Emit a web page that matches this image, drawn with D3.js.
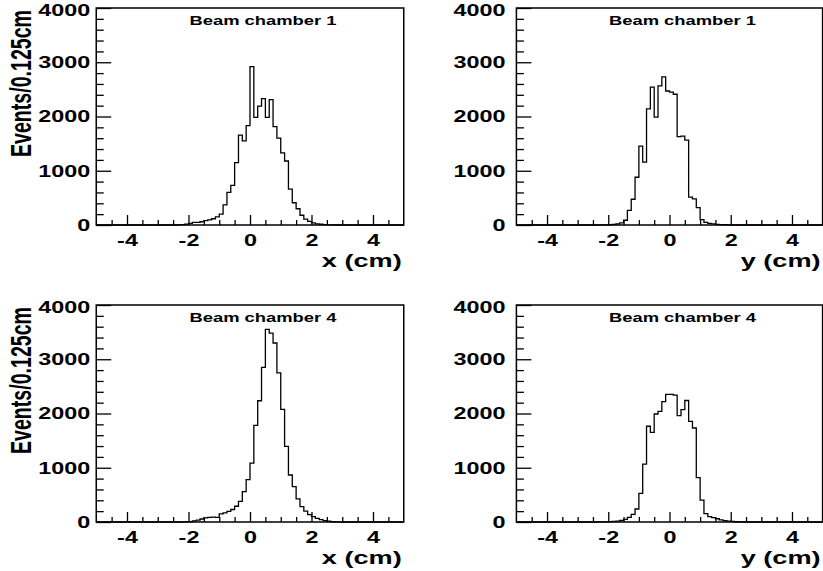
<!DOCTYPE html>
<html>
<head>
<meta charset="utf-8">
<script src="https://cdn.jsdelivr.net/npm/d3@7"></script>
<style>
  body { margin: 0; background: #fff; }
  svg { display: block; }
  text { font-family: "Liberation Sans", Arial, Helvetica, sans-serif; font-weight: bold; fill: #000; }
</style>
</head>
<body>
<div id="vis"></div>
<script>
// histogram binning: 80 bins of 0.125 cm from -5 to 5
var xMin = -5;
var xMax = 5;
var binWidth = 0.125;
// the stored counts start at this bin edge, everything outside is empty
var firstEdge = -2.5;

// events per bin, chamber 1, x
var xChamber1 = [0, 3, 8, 15, 30, 50, 50, 60, 80, 95, 115, 150, 200, 370, 600, 730,
  1150, 1655, 1550, 1830, 2920, 1985, 2190, 2330, 1985, 2310, 1815, 1600, 1330, 1180,
  660, 410, 300, 180, 110, 65, 38, 22, 14, 8, 4, 2, 0, 0];
// events per bin, chamber 1, y
var yChamber1 = [0, 0, 2, 3, 5, 10, 20, 40, 88, 270, 475, 880, 1455, 1160, 2140, 2540,
  1990, 2565, 2730, 2470, 2450, 2410, 1630, 1640, 1565, 515, 480, 320, 100, 48,
  30, 20, 12, 8, 5, 3, 0, 0, 0, 0, 0, 0, 0, 0];
// events per bin, chamber 4, x
var xChamber4 = [0, 0, 2, 4, 8, 20, 35, 55, 75, 85, 90, 85, 150, 170, 195, 230,
  290, 380, 560, 780, 1085, 1780, 2235, 2850, 3550, 3480, 3300, 2750, 2077, 1395,
  866, 651, 425, 283, 200, 135, 98, 65, 42, 25, 15, 8, 4, 2];
// events per bin, chamber 4, y
var yChamber4 = [0, 2, 3, 4, 6, 10, 15, 30, 50, 86, 140, 240, 528, 1065, 1765, 1653,
  1991, 2040, 2220, 2353, 2353, 2340, 1960, 2070, 2240, 1855, 1733, 817, 405, 155,
  98, 80, 60, 40, 25, 15, 10, 5, 3, 0, 0, 0, 0, 0];

var panelTitles = ["Beam chamber 1", "Beam chamber 1", "Beam chamber 4", "Beam chamber 4"];
var axisTitles = ["x (cm)", "y (cm)", "x (cm)", "y (cm)"];
var yTitle = "Events/0.125cm";
var xMajorTicks = [-4, -2, 0, 2, 4];
var xMinorTicks = [-4.5, -3.5, -3, -2.5, -1.5, -1, -0.5, 0.5, 1, 1.5, 2.5, 3, 3.5, 4.5];
var yMajorTicks = [0, 1000, 2000, 3000, 4000];
var yMinorTicks = [200, 400, 600, 800, 1200, 1400, 1600, 1800, 2200, 2400, 2600, 2800,
  3200, 3400, 3600, 3800];

var panelData = [xChamber1, yChamber1, xChamber4, yChamber4];

// canvas and frame geometry (the original is stretched sideways)
var width = 823;
var height = 571;
var stretch = 1.46;
var cols = [{ x0: 96.25, x1: 403.75, gap: 6 }, { x0: 516.4, x1: 822.6, gap: 11 }];
var rows = [{ y0: 8, y1: 225 }, { y0: 305, y1: 522 }];

var svg = d3.select("#vis").append("svg")
  .attr("width", width)
  .attr("height", height);

svg.append("rect")
  .attr("width", width)
  .attr("height", height)
  .attr("fill", "#fff");

// turn the stored counts into one entry per bin over the full range
function fullBins(counts) {
  var nBins = Math.round((xMax - xMin) / binWidth);
  var offset = Math.round((firstEdge - xMin) / binWidth);
  var bins = [];
  for (var i = 0; i < nBins; i++) {
    var j = i - offset;
    bins.push({
      lo: xMin + i * binWidth,
      hi: xMin + (i + 1) * binWidth,
      n: j >= 0 && j < counts.length ? counts[j] : 0
    });
  }
  return bins;
}

panelData.forEach(function (counts, p) {
  var col = cols[p % 2];
  var row = rows[Math.floor(p / 2)];

  var x = d3.scaleLinear().domain([xMin, xMax]).range([col.x0, col.x1]);
  var y = d3.scaleLinear().domain([0, 4000]).range([row.y1, row.y0]);

  var g = svg.append("g").attr("class", "panel");

  // x axis, ticks pointing into the frame
  var xAxis = g.append("g")
    .attr("transform", "translate(0," + row.y1 + ")")
    .call(d3.axisBottom(x).tickValues(xMajorTicks).tickSizeInner(-10)
      .tickSizeOuter(0).tickPadding(9.5).tickFormat(d3.format("d")));
  g.append("g")
    .attr("transform", "translate(0," + row.y1 + ")")
    .call(d3.axisBottom(x).tickValues(xMinorTicks).tickSizeInner(-5)
      .tickSizeOuter(0).tickFormat(""));

  // y axis
  var yAxis = g.append("g")
    .attr("transform", "translate(" + col.x0 + ",0)")
    .call(d3.axisLeft(y).tickValues(yMajorTicks).tickSizeInner(-15)
      .tickSizeOuter(0).tickPadding(col.gap / stretch).tickFormat(d3.format("d")));
  g.append("g")
    .attr("transform", "translate(" + col.x0 + ",0)")
    .call(d3.axisLeft(y).tickValues(yMinorTicks).tickSizeInner(-7.5)
      .tickSizeOuter(0).tickFormat(""));

  g.selectAll(".domain").remove();
  g.selectAll(".tick line").attr("stroke", "#000").attr("stroke-width", 1.3);

  xAxis.selectAll("text")
    .attr("font-size", 16)
    .attr("transform", "scale(" + stretch + ",1)")
    .text(function (d) { return d < 0 ? "-" + Math.abs(d) : d; });

  yAxis.selectAll("text")
    .attr("font-size", 16)
    .attr("dy", function (d) { return d === 4000 ? "0.48em" : "0.34em"; })
    .attr("transform", "scale(" + stretch + ",1)");

  // frame
  g.append("rect")
    .attr("x", col.x0)
    .attr("y", row.y0)
    .attr("width", col.x1 - col.x0)
    .attr("height", row.y1 - row.y0)
    .attr("fill", "none")
    .attr("stroke", "#000")
    .attr("stroke-width", 1.5);

  // histogram outline as a step line
  var bins = fullBins(counts);
  var pts = [];
  bins.forEach(function (b) {
    pts.push([x(b.lo), y(b.n)]);
    pts.push([x(b.hi), y(b.n)]);
  });
  g.append("path")
    .attr("d", d3.line()(pts))
    .attr("fill", "none")
    .attr("stroke", "#000")
    .attr("stroke-width", 1.3);

  // panel title
  var cx = (col.x0 + col.x1) / 2 + 13;
  g.append("text")
    .attr("transform", "translate(" + cx + "," + (row.y0 + 17) + ") scale(" + stretch + ",1)")
    .attr("text-anchor", "middle")
    .attr("font-size", 12.6)
    .text(panelTitles[p]);

  // x axis title
  g.append("text")
    .attr("transform", "translate(" + (col.x1 - 2) + "," + (row.y1 + 42) + ") scale(" + stretch + ",1)")
    .attr("text-anchor", "end")
    .attr("font-size", 18.6)
    .text(axisTitles[p]);

  // y axis title on the left column only
  if (p % 2 === 0) {
    g.append("text")
      .attr("transform", "translate(31," + (row.y0 + 2) + ") scale(" + stretch + ",1) rotate(-90)")
      .attr("text-anchor", "end")
      .attr("font-size", 19.6)
      .text(yTitle);
  }
});
</script>
</body>
</html>
